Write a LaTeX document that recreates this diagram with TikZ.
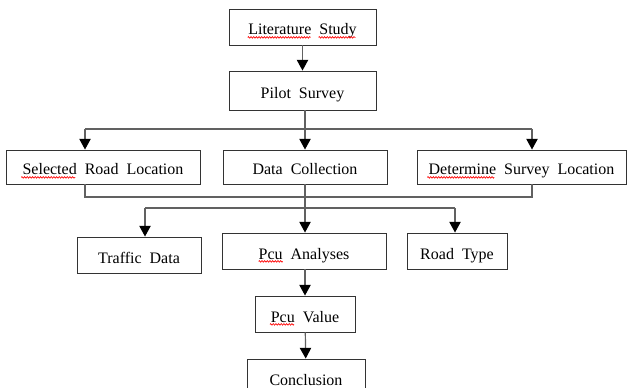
\documentclass[tikz,border=0pt]{standalone}
\usepackage{fontspec}
\setmainfont{Liberation Serif}
\usetikzlibrary{arrows.meta,decorations.pathmorphing}
\newcommand\boxfont{\fontsize{12}{14}\selectfont\spaceskip=6pt\relax}
\begin{document}
\begin{tikzpicture}[x=0.75pt, y=-0.75pt,
    box/.style={draw=black!80, line width=0.7pt, inner sep=0pt, font=\boxfont,
      text height=13pt, text depth=1pt},
    link/.style={draw=black!62, line width=0.9pt},
    arrow/.style={link, -{Triangle[length=8pt, width=8.5pt, black]}},
    spell/.style={red, line width=0.5pt, decorate,
      decoration={zigzag, amplitude=0.6pt, segment length=2pt}}]
        \useasboundingbox[fill=white] (0,0) rectangle (627,388);
        % Top column
        \node[box, minimum width=110.25pt, minimum height=27pt] (lit) at (302.5,27) {Literature Study};
        \node[box, minimum width=110.25pt, minimum height=29.25pt] (pilot) at (302.5,90.5) {Pilot Survey};
        % Second row
        \node[box, minimum width=145.5pt, minimum height=25.5pt] (sel) at (103,167) {Selected Road Location};
        \node[box, minimum width=123pt, minimum height=25.5pt] (data) at (305,167) {Data Collection};
        \node[box, minimum width=156.75pt, minimum height=25.5pt] (det) at (521.5,167) {Determine Survey Location};
        % Third row
        \node[box, minimum width=93pt, minimum height=27pt] (traffic) at (139,255) {Traffic Data};
        \node[box, minimum width=123pt, minimum height=27pt] (pcua) at (304,251) {Pcu Analyses};
        \node[box, minimum width=75pt, minimum height=27pt] (road) at (457,251) {Road Type};
        % Bottom column
        \node[box, minimum width=75pt, minimum height=27pt] (pcuv) at (305,314) {Pcu Value};
        \node[box, minimum width=88.5pt, minimum height=27pt] (concl) at (306,377) {Conclusion};

        % Spell-check marks
        \draw[spell] ([xshift=-41.1pt, yshift=-1.8pt]lit.base) -- ++(63,0);
        \draw[spell] ([xshift=12.1pt, yshift=-1.8pt]lit.base) -- ++(37,0);
        \draw[spell] ([xshift=-61.3pt, yshift=-1.8pt]sel.base) -- ++(54,0);
        \draw[spell] ([xshift=-70.6pt, yshift=-1.8pt]det.base) -- ++(67,0);
        \draw[spell] ([xshift=-34pt, yshift=-1.8pt]pcua.base) -- ++(24,0);
        \draw[spell] ([xshift=-26.3pt, yshift=-1.8pt]pcuv.base) -- ++(24,0);

        % Branch points
        \coordinate (splitL) at (85,129);
        \coordinate (splitR) at (532,129);
        \coordinate (loopL) at (85,197);
        \coordinate (loopR) at (532,197);
        \coordinate (forkL) at (145,208);
        \coordinate (forkR) at (455,208);

        % Connectors
        \draw[arrow] (lit) -- (pilot);
        \draw[link] (pilot.south -| data) -- (data |- splitL);
        \draw[link] (splitL) -- (splitR);
        \draw[arrow] (splitL) -- (splitL |- sel.north);
        \draw[arrow] (data.north |- splitL) -- (data.north);
        \draw[arrow] (splitR) -- (splitR |- det.north);
        \draw[link] (loopL |- sel.south) -- (loopL) -- (loopR) -- (loopR |- det.south);
        \draw[link] (forkL) -- (forkR);
        \draw[arrow] (forkL) -- (forkL |- traffic.north);
        \draw[arrow] (forkR) -- (forkR |- road.north);
        \draw[arrow] (data.south) -- (data.south |- pcua.north);
        \draw[arrow] (pcuv.north |- pcua.south) -- (pcuv.north);
        \draw[arrow] (pcuv) -- (concl);
\end{tikzpicture}
\end{document}
